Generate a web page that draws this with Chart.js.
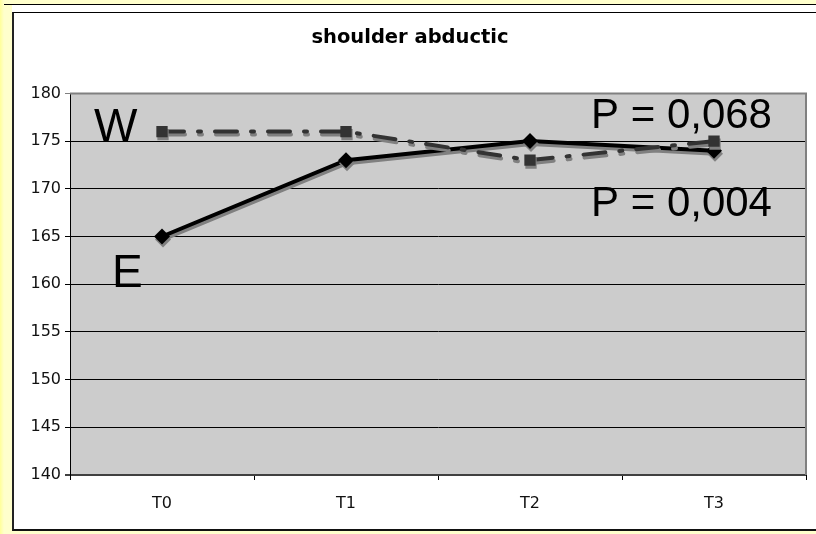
<!DOCTYPE html>
<html lang="en">
<head>
  <meta charset="UTF-8" />
  <title>shoulder abduction</title>
  <style>
    body {
      margin: 0;
      width: 816px;
      height: 534px;
      overflow: hidden;
      background: linear-gradient(to right, #ffff99 0px, #ffffcc 4px, #ffffcc 100%);
      font-family: 'Liberation Sans', Arial, sans-serif;
    }
    .outer {
      position: absolute;
      left: 4px;
      top: 4px;
      right: 0;
      height: 526px;
      border-top: 1px solid #000;
      background: linear-gradient(to right, #ffffcc 0px, #ffffcc 8px, #fff 8px);
    }
    .frame {
      position: absolute;
      left: 12px;
      top: 12px;
      width: 804px;
      height: 516px;
      border-top: 1px solid #000;
      border-left: 2px solid #222;
      border-bottom: 2px solid #111;
      background: #fff;
    }
    #wrap {
      position: absolute;
      left: 0;
      top: 0;
      width: 804px;
      height: 516px;
    }
  </style>
</head>
<body>
  <div class="outer"></div>
  <div class="frame">
    <div id="wrap"><canvas id="grafico"></canvas></div>
  </div>

  <script src="https://cdn.jsdelivr.net/npm/chart.js"></script>
  <script>
    const categorias = ['T0', 'T1', 'T2', 'T3'];
    const serieE = [165, 173, 175, 174];
    const serieW = [176, 176, 173, 175];
    const yTicks = [140, 145, 150, 155, 160, 165, 170, 175, 180];
    const titulo = 'shoulder abductic';

    const fonte = "'Liberation Sans', Arial, sans-serif";
    const fonteEixo = "'DejaVu Sans', Verdana, sans-serif";

    // fundo cinza da area do grafico + borda
    const fundoPlot = {
      id: 'fundoPlot',
      beforeDraw(chart) {
        const { ctx, chartArea: a } = chart;
        ctx.save();
        ctx.fillStyle = '#cccccc';
        ctx.fillRect(a.left, a.top, a.right - a.left, a.bottom - a.top);
        ctx.restore();
      },
      afterDatasetsDraw(chart) {
        const { ctx, chartArea: a } = chart;
        ctx.save();
        ctx.strokeStyle = '#808080';
        ctx.lineWidth = 2;
        ctx.beginPath();
        ctx.moveTo(a.left, a.top);
        ctx.lineTo(a.right, a.top);
        ctx.lineTo(a.right, a.bottom);
        ctx.stroke();
        ctx.restore();
      }
    };

    // sombra das linhas
    const sombra = {
      id: 'sombra',
      beforeDatasetDraw(chart) {
        const ctx = chart.ctx;
        ctx.save();
        ctx.shadowColor = '#808080';
        ctx.shadowOffsetX = 1;
        ctx.shadowOffsetY = 3;
        ctx.shadowBlur = 0;
      },
      afterDatasetDraw(chart) {
        chart.ctx.restore();
      }
    };

    // textos W, E e valores de P
    const rotulos = {
      id: 'rotulos',
      afterDraw(chart) {
        const { ctx, chartArea: a, scales } = chart;
        const y = scales.y;
        ctx.save();
        ctx.fillStyle = '#000';
        ctx.textAlign = 'left';
        ctx.textBaseline = 'alphabetic';
        ctx.font = '46px ' + fonte;
        ctx.fillText('W', a.left + 24, y.getPixelForValue(175));
        ctx.fillText('E', a.left + 42, y.getPixelForValue(160) + 3);
        ctx.font = '42px ' + fonte;
        ctx.fillText('P = 0,068', a.left + 521, y.getPixelForValue(176.4));
        ctx.fillText('P = 0,004', a.left + 521, y.getPixelForValue(167.1));
        ctx.restore();
      }
    };

    new Chart(document.getElementById('grafico'), {
      type: 'line',
      data: {
        labels: categorias,
        datasets: [
          {
            label: 'W',
            data: serieW,
            borderColor: '#333333',
            backgroundColor: '#333333',
            borderWidth: 4,
            borderDash: [22, 14, 3, 14],
            borderCapStyle: 'round',
            pointStyle: 'rect',
            pointRadius: 8,
            pointBorderWidth: 0,
            pointBackgroundColor: '#333333',
            tension: 0
          },
          {
            label: 'E',
            data: serieE,
            borderColor: '#000000',
            backgroundColor: '#000000',
            borderWidth: 4,
            pointStyle: 'rectRot',
            pointRadius: 8,
            pointBorderWidth: 0,
            pointBackgroundColor: '#000000',
            tension: 0
          }
        ]
      },
      options: {
        responsive: true,
        maintainAspectRatio: false,
        animation: false,
        layout: { padding: { left: 0, right: 12, top: 0, bottom: 0 } },
        plugins: {
          legend: { display: false },
          tooltip: { enabled: false },
          title: {
            display: true,
            text: titulo,
            color: '#000',
            font: { family: fonteEixo, size: 19.5, weight: 'bold' },
            padding: { top: 13, bottom: 44 }
          }
        },
        scales: {
          x: {
            offset: true,
            grid: {
              offset: true,
              drawOnChartArea: false,
              drawTicks: true,
              tickLength: 5,
              color: '#000'
            },
            border: { display: false },
            ticks: {
              color: '#111',
              font: { family: fonteEixo, size: 16 },
              padding: 14
            },
            afterFit(s) { s.height = 54; }
          },
          y: {
            min: 140,
            max: 180,
            afterBuildTicks(s) { s.ticks = yTicks.map(v => ({ value: v })); },
            grid: {
              color: c => c.tick.value === 180 ? '#808080' : (c.tick.value === 140 ? '#404040' : '#000'),
              lineWidth: c => c.tick.value === 140 ? 2 : 1,
              tickLength: 5
            },
            border: { display: true, color: '#000', width: 1 },
            ticks: {
              color: '#111',
              font: { family: fonteEixo, size: 16 },
              padding: 4
            },
            afterFit(s) { s.width = 56; }
          }
        }
      },
      plugins: [fundoPlot, sombra, rotulos]
    });
  </script>
</body>
</html>
